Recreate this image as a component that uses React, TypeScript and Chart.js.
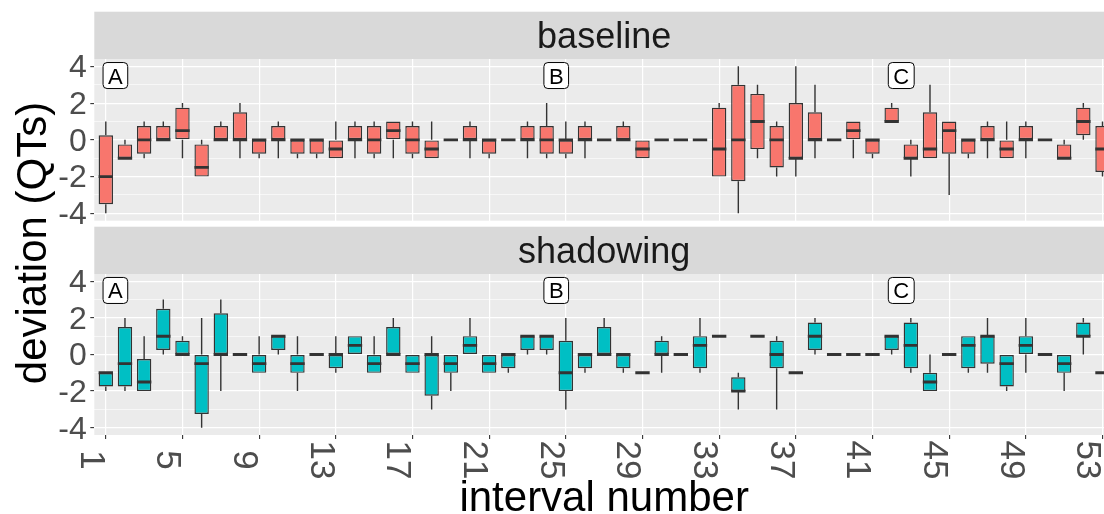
import React, { useEffect, useRef } from "react";
import { Chart, registerables } from "chart.js";

Chart.register(...registerables);

const FONT = '"Liberation Sans", Arial, Helvetica, sans-serif';

const intervals = [
  1, 2, 3, 4, 5, 6, 7, 8, 9, 10, 11, 12, 13, 14, 15, 16, 17, 18, 19, 20,
  21, 22, 23, 24, 25, 26, 27, 28, 29, 30, 31, 32, 33, 34, 35, 36, 37, 38, 39, 40,
  41, 42, 43, 44, 45, 46, 47, 48, 49, 50, 51, 52, 53,
];
const xTickLabels = [1, 5, 9, 13, 17, 21, 25, 29, 33, 37, 41, 45, 49, 53];
const yTickValues = [-4, -3, -2, -1, 0, 1, 2, 3, 4];
const panelNames = ["baseline", "shadowing"];
const noteTexts = ["A", "B", "C"];
const noteX = [1.5, 24.5, 42.5];
const noteY = [3.5, 3.5, 3.5];
const xTitle = "interval number";
const yTitle = "deviation (QTs)";

// baseline panel: whisker low, Q1, median, Q3, whisker high
const baselineMin = [
  -4, -1, -1, 0, -1, -2, 0, -1, -1, -1, -1, -1, -1, -1, -1, -1, -1, -1, 0, -1,
  -1, 0, -1, -1, -1, -1, 0, 0, -1, 0, 0, 0, -2, -4, -1, -2, -2, -1, 0, -1,
  -1, 1, -2, -1, -3, -1, -1, -1, -1, 0, -1, 0, -2,
];
const baselineQ1 = [
  -3.5, -1, -0.75, 0, 0, -2, 0, 0, -0.75, 0, -0.75, -0.75, -1, 0, -0.75, 0, -0.75, -1, 0, 0,
  -0.75, 0, 0, -0.75, -0.75, 0, 0, 0, -1, 0, 0, 0, -2, -2.25, -0.5, -1.5, -1, 0, 0, 0,
  -0.75, 1, -1, -1, -0.75, -0.75, 0, -1, 0, 0, -1, 0.25, -1.75,
];
const baselineMed = [
  -2, -1, 0, 0, 0.5, -1.5, 0, 0, 0, 0, 0, 0, -0.5, 0, 0, 0.5, 0, -0.5, 0, 0,
  0, 0, 0, 0, 0, 0, 0, 0, -0.5, 0, 0, 0, -0.5, 0, 1, 0, -1, 0, 0, 0.5,
  0, 1, -1, -0.5, 0.5, 0, 0, -0.5, 0, 0, -1, 1, -0.5,
];
const baselineQ3 = [
  0.25, -0.25, 0.75, 0.75, 1.75, -0.25, 0.75, 1.5, 0, 0.75, 0, 0, 0, 0.75, 0.75, 1, 0.75, 0, 0, 0.75,
  0, 0, 0.75, 0.75, 0, 0.75, 0, 0.75, 0, 0, 0, 0, 1.75, 3, 2.5, 0.75, 2, 1.5, 0, 1,
  0, 1.75, -0.25, 1.5, 1, 0, 0.75, 0, 0.75, 0, -0.25, 1.75, 0.75,
];
const baselineMax = [
  1, 0, 1, 1, 2, 0, 1, 2, 0, 1, 0, 0, 1, 1, 1, 1, 1, 1, 0, 1,
  0, 0, 1, 2, 1, 1, 0, 1, 0, 0, 0, 0, 2, 4, 3, 1, 4, 3, 0, 1,
  0, 2, 0, 3, 1, 0, 1, 1, 1, 0, 0, 2, 1,
];

// shadowing panel
const shadowMin = [
  -2, -2, -2, 0, 0, -4, -2, 0, -1, 0, -2, 0, -1, 0, -1, 0, -1, -3, -2, 0,
  -1, -1, 0, 0, -3, -1, 0, -1, -1, -1, 0, -1, 1, -3, 1, -3, -1, 0, 0, 0,
  0, 0, -1, -2, 0, -1, -1, -2, -1, 0, -2, 0, -1,
];
const shadowQ1 = [
  -1.75, -1.75, -2, 0.25, 0, -3.25, 0, 0, -1, 0.25, -1, 0, -0.75, 0, -1, 0, -1, -2.25, -1, 0,
  -1, -0.75, 0.25, 0.25, -2, -0.75, 0, -0.75, -1, 0, 0, -0.75, 1, -2, 1, -0.75, -1, 0.25, 0, 0,
  0, 0.25, -0.75, -2, 0, -0.75, -0.5, -1.75, 0, 0, -1, 1, -1,
];
const shadowMed = [
  -1, -0.5, -1.5, 1, 0, -0.5, 0, 0, -0.5, 1, -0.5, 0, 0, 0.5, -0.5, 0, -0.5, 0, -0.5, 0.5,
  -0.5, 0, 1, 1, -1, 0, 0, 0, -1, 0, 0, 0.5, 1, -2, 1, 0, -1, 1, 0, 0,
  0, 1, 0.5, -1.5, 0, 0.5, 1, -0.5, 0.5, 0, -0.5, 1, -1,
];
const shadowQ3 = [
  -1, 1.5, -0.25, 2.5, 0.75, 0, 2.25, 0, 0, 1, 0, 0, 0, 1, 0, 1.5, 0, 0, 0, 1,
  0, 0, 1, 1, 0.75, 0, 1.5, 0, -1, 0.75, 0, 1, 1, -1.25, 1, 0.75, -1, 1.75, 0, 0,
  0, 1, 1.75, -1, 0, 1, 1, 0, 1, 0, 0, 1.75, -1,
];
const shadowMax = [
  -1, 2, 1, 3, 1, 2, 3, 0, 1, 1, 1, 0, 1, 1, 1, 2, 0, 1, 0, 2,
  0, 0, 1, 1, 2, 0, 2, 0, -1, 1, 0, 2, 1, -1, 1, 1, -1, 2, 0, 0,
  0, 1, 2, 0, 0, 1, 2, 0, 2, 0, 0, 2, -1,
];

const panelFills = ["#F8766D", "#00BFC4"];

type Series = { min: number[]; q1: number[]; med: number[]; q3: number[]; max: number[] };

const seriesFor = (p: number): Series =>
  p === 0
    ? { min: baselineMin, q1: baselineQ1, med: baselineMed, q3: baselineQ3, max: baselineMax }
    : { min: shadowMin, q1: shadowQ1, med: shadowMed, q3: shadowQ3, max: shadowMax };

const STRIP_H = 47.3;

function roundRectPath(ctx: CanvasRenderingContext2D, x: number, y: number, w: number, h: number, r: number) {
  ctx.beginPath();
  ctx.moveTo(x + r, y);
  ctx.lineTo(x + w - r, y);
  ctx.arcTo(x + w, y, x + w, y + r, r);
  ctx.lineTo(x + w, y + h - r);
  ctx.arcTo(x + w, y + h, x + w - r, y + h, r);
  ctx.lineTo(x + r, y + h);
  ctx.arcTo(x, y + h, x, y + h - r, r);
  ctx.lineTo(x, y + r);
  ctx.arcTo(x, y, x + r, y, r);
  ctx.closePath();
}

function buildConfig(panel: number): any {
  const s = seriesFor(panel);
  const isBottom = panel === 1;
  const padTop = isBottom ? 274 : 59;
  const padBottom = isBottom ? 79 : 293.3;

  const facetPlugin = {
    id: "facet" + panel,
    beforeDraw(chart: any) {
      const { ctx, chartArea: a } = chart;
      ctx.save();
      ctx.fillStyle = "#EBEBEB";
      ctx.fillRect(a.left, a.top, a.right - a.left, a.bottom - a.top);
      ctx.fillStyle = "#D9D9D9";
      ctx.fillRect(a.left, a.top - STRIP_H, a.right - a.left, STRIP_H);
      ctx.fillStyle = "#1A1A1A";
      ctx.font = `36px ${FONT}`;
      ctx.textAlign = "center";
      ctx.textBaseline = "alphabetic";
      ctx.fillText(panelNames[panel], (a.left + a.right) / 2, a.top - STRIP_H / 2 + 13);
      ctx.restore();
    },
    beforeDatasetsDraw(chart: any) {
      const { ctx } = chart;
      const xs = chart.scales.x;
      const ys = chart.scales.y;
      ctx.save();
      ctx.strokeStyle = "#333333";
      ctx.lineWidth = 1.4;
      ctx.beginPath();
      intervals.forEach((iv, i) => {
        const px = xs.getPixelForValue(iv);
        if (s.max[i] > s.q3[i]) {
          ctx.moveTo(px, ys.getPixelForValue(s.q3[i]));
          ctx.lineTo(px, ys.getPixelForValue(s.max[i]));
        }
        if (s.min[i] < s.q1[i]) {
          ctx.moveTo(px, ys.getPixelForValue(s.q1[i]));
          ctx.lineTo(px, ys.getPixelForValue(s.min[i]));
        }
      });
      ctx.stroke();
      ctx.restore();
    },
    afterDatasetsDraw(chart: any) {
      const { ctx } = chart;
      const xs = chart.scales.x;
      const ys = chart.scales.y;
      const meta = chart.getDatasetMeta(0);
      ctx.save();
      ctx.strokeStyle = "#333333";
      ctx.lineWidth = 2.9;
      ctx.lineCap = "butt";
      ctx.beginPath();
      meta.data.forEach((el: any, i: number) => {
        const w = el.width;
        const py = ys.getPixelForValue(s.med[i]);
        ctx.moveTo(el.x - w / 2, py);
        ctx.lineTo(el.x + w / 2, py);
      });
      ctx.stroke();

      // annotation labels
      ctx.font = `22px ${FONT}`;
      ctx.textAlign = "center";
      ctx.textBaseline = "alphabetic";
      noteTexts.forEach((t, k) => {
        const cx = xs.getPixelForValue(noteX[k]);
        const cy = ys.getPixelForValue(noteY[k]);
        const w = ctx.measureText(t).width + 10;
        const h = 26;
        roundRectPath(ctx, cx - w / 2, cy - h / 2, w, h, 4);
        ctx.fillStyle = "#FFFFFF";
        ctx.fill();
        ctx.strokeStyle = "#000000";
        ctx.lineWidth = 1;
        ctx.stroke();
        ctx.fillStyle = "#000000";
        ctx.fillText(t, cx, cy + 8);
      });
      ctx.restore();
    },
    afterDraw(chart: any) {
      if (!isBottom) return;
      const { ctx, chartArea: a } = chart;
      const xs = chart.scales.x;
      ctx.save();
      ctx.fillStyle = "#4D4D4D";
      ctx.font = `35px ${FONT}`;
      ctx.textAlign = "center";
      ctx.textBaseline = "alphabetic";
      xTickLabels.forEach((v) => {
        const px = xs.getPixelForValue(v);
        ctx.save();
        ctx.translate(px, 460);
        ctx.rotate(Math.PI / 2);
        ctx.fillText(String(v), 0, 25);
        ctx.restore();
      });
      ctx.fillStyle = "#000000";
      ctx.font = `42px ${FONT}`;
      ctx.fillText(xTitle, (a.left + a.right) / 2, 511);
      ctx.save();
      ctx.translate(46, 243);
      ctx.rotate(-Math.PI / 2);
      ctx.fillText(yTitle, 0, 0);
      ctx.restore();
      ctx.restore();
    },
  };

  return {
    type: "bar",
    data: {
      datasets: [
        {
          data: intervals.map((iv, i) => ({ x: iv, y: [s.q1[i], s.q3[i]] })),
          backgroundColor: panelFills[panel],
          borderColor: "#333333",
          borderWidth: 1.4,
          borderSkipped: false,
          barPercentage: 0.75,
          categoryPercentage: 1,
          grouped: false,
        },
      ],
    },
    options: {
      animation: false,
      responsive: false,
      devicePixelRatio: 1,
      layout: { padding: { top: padTop, bottom: padBottom, left: 0, right: 6 } },
      plugins: { legend: { display: false }, tooltip: { enabled: false }, title: { display: false } },
      events: [],
      scales: {
        x: {
          type: "linear",
          min: 0.4,
          max: 53.6,
          offset: false,
          border: { display: false },
          grid: {
            offset: false,
            color: "#FFFFFF",
            lineWidth: 1.2,
            drawTicks: isBottom,
            tickLength: 4,
            tickColor: "#333333",
            tickWidth: 1.1,
          },
          ticks: { display: false },
          afterBuildTicks: (sc: any) => {
            sc.ticks = xTickLabels.map((v) => ({ value: v }));
          },
          afterFit: (sc: any) => {
            sc.height = 0;
          },
        },
        y: {
          type: "linear",
          min: -4.4,
          max: 4.4,
          border: { display: false },
          grid: {
            color: "#FFFFFF",
            lineWidth: (c: any) => (c.tick && Math.abs(c.tick.value) % 2 === 1 ? 0.6 : 1.2),
            drawTicks: true,
            tickLength: 4,
            tickWidth: 1.1,
            tickColor: (c: any) =>
              c.tick && Math.abs(c.tick.value) % 2 === 1 ? "rgba(0,0,0,0)" : "#333333",
          },
          ticks: {
            autoSkip: false,
            color: "#4D4D4D",
            font: { size: 32, family: FONT },
            padding: 3.6,
            labelOffset: 2,
            callback: (v: any) => (Math.abs(v) % 2 === 0 ? String(v) : ""),
          },
          afterBuildTicks: (sc: any) => {
            sc.ticks = yTickValues.map((v) => ({ value: v }));
          },
          afterFit: (sc: any) => {
            sc.width = 94.3;
          },
        },
      },
    },
    plugins: [facetPlugin],
  };
}

export default function App() {
  const topRef = useRef<HTMLCanvasElement>(null);
  const botRef = useRef<HTMLCanvasElement>(null);

  useEffect(() => {
    const c1 = new Chart(topRef.current as HTMLCanvasElement, buildConfig(0));
    const c2 = new Chart(botRef.current as HTMLCanvasElement, buildConfig(1));
    return () => {
      c1.destroy();
      c2.destroy();
    };
  }, []);

  const canvasStyle: React.CSSProperties = {
    position: "absolute",
    left: 0,
    top: 0,
    width: 1120,
    height: 514,
  };

  return (
    <div
      style={{
        position: "fixed",
        left: 0,
        top: 0,
        width: 1104,
        height: 514,
        overflow: "hidden",
        background: "#FFFFFF",
      }}
    >
      <canvas ref={topRef} width={1120} height={514} style={canvasStyle} />
      <canvas ref={botRef} width={1120} height={514} style={canvasStyle} />
    </div>
  );
}
